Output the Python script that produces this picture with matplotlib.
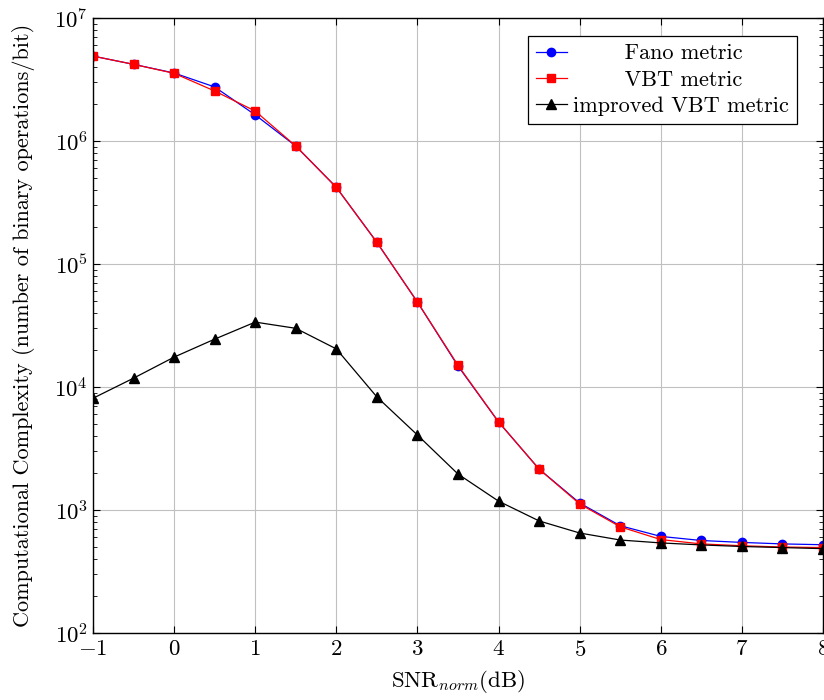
import matplotlib
matplotlib.use("Agg")
import matplotlib.pyplot as plt
import numpy as np
from matplotlib.ticker import LogLocator, NullFormatter

plt.rcParams['font.family'] = ['cmr10']
plt.rcParams['mathtext.fontset'] = 'cm'
plt.rcParams['axes.formatter.use_mathtext'] = True

snr = [-1, -0.5, 0, 0.5, 1, 1.5, 2, 2.5, 3, 3.5, 4, 4.5, 5, 5.5, 6, 6.5, 7, 7.5, 8]
fano = [4.9e6, 4.2e6, 3.57e6, 2.75e6, 1.63e6, 9.1e5, 4.2e5, 1.5e5, 4.9e4, 1.48e4,
        5.2e3, 2.15e3, 1.14e3, 745, 610, 565, 545, 530, 522]
vbt = [4.9e6, 4.2e6, 3.55e6, 2.55e6, 1.75e6, 9.1e5, 4.2e5, 1.5e5, 4.9e4, 1.5e4,
       5.2e3, 2.15e3, 1.12e3, 730, 575, 530, 512, 500, 495]
improved = [8.1e3, 1.18e4, 1.75e4, 2.45e4, 3.37e4, 3.0e4, 2.04e4, 8.3e3, 4.07e3, 1.96e3,
            1.18e3, 815, 650, 570, 540, 520, 505, 495, 485]
labels = ['Fano metric', 'VBT metric', 'improved VBT metric']
xticks = [-1, 0, 1, 2, 3, 4, 5, 6, 7, 8]

LEG_FS = 16

fig = plt.figure(figsize=(8.24, 7.0), dpi=100)
ax = fig.add_axes([93/824, 1-633/700, (823-93)/824, (633-18)/700])

# center legend labels by padding with leading spaces
renderer = fig.canvas.get_renderer()
def text_w(s):
    t = fig.text(0, 0, s, fontsize=LEG_FS)
    w = t.get_window_extent(renderer).width
    t.remove()
    return w
sp = (text_w('a' + ' ' * 10 + 'a') - text_w('aa')) / 10
wmax = max(text_w(l) for l in labels)
padded = [' ' * int(round((wmax - text_w(l)) / 2 / sp)) + l for l in labels]

ax.plot(snr, fano, color='blue', marker='o', markersize=6, lw=0.9, label=padded[0])
ax.plot(snr, vbt, color='red', marker='s', markersize=6, lw=0.9, label=padded[1])
ax.plot(snr, improved, color='black', marker='^', markersize=7, lw=0.9, label=padded[2])

ax.set_yscale('log')
ax.set_xlim(-1, 8)
ax.set_ylim(1e2, 1e7)
ax.set_xticks(xticks)
ax.yaxis.set_major_locator(LogLocator(base=10, numticks=10))
ax.yaxis.set_minor_locator(LogLocator(base=10, subs=np.arange(2, 10), numticks=100))
ax.yaxis.set_minor_formatter(NullFormatter())
ax.grid(True, which='major', color='#c0c0c0', lw=0.8)
ax.set_axisbelow(True)
ax.tick_params(which='both', direction='in', top=True, right=True, labelsize=16.5)
ax.tick_params(which='major', length=5, width=0.8)
ax.tick_params(which='minor', length=3, width=0.6)
ax.tick_params(axis='x', which='minor', bottom=False, top=False)
ax.tick_params(axis='x', pad=5)
for s in ax.spines.values():
    s.set_linewidth(1.0)

ax.set_xlabel(r'$\mathrm{SNR}_{norm}\mathrm{(dB)}$', fontsize=16.5, labelpad=6)
ax.set_ylabel('Computational Complexity (number of binary operations/bit)', fontsize=16, labelpad=14)

leg = ax.legend(loc='upper right', bbox_to_anchor=(1 - 26/730, 1 - 18/615),
                fontsize=LEG_FS, frameon=True, fancybox=False,
                edgecolor='black', framealpha=1, handlelength=1.4, borderaxespad=0,
                borderpad=0.35, labelspacing=0.3, handletextpad=0.3)
leg.get_frame().set_linewidth(0.9)

fig.savefig('out.png', dpi=100)
